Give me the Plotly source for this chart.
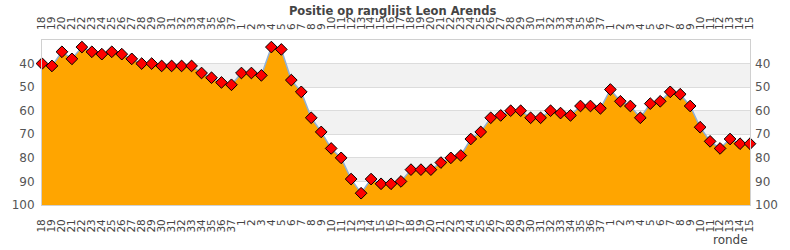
import plotly.graph_objects as go

labels = [str(i) for i in range(18, 38)] + [str(i) for i in range(1, 38)] + [str(i) for i in range(1, 16)]
positions = [40, 41, 35, 38, 33, 35, 36, 35, 36, 38, 40, 40, 41, 41, 41, 41, 44, 46, 48, 49,
             44, 44, 45, 33, 34, 47, 52, 63, 69, 76, 80, 89, 95, 89, 91, 91, 90, 85, 85, 85,
             82, 80, 79, 72, 69, 63, 62, 60, 60, 63, 63, 60, 61, 62, 58, 58, 59, 51, 56, 58,
             63, 57, 56, 52, 53, 58, 67, 73, 76, 72, 74, 74]
y_ticks = [40, 50, 60, 70, 80, 90, 100]
bands = [(40, 50), (60, 70), (80, 90)]
y_range = [100, 30]
title = "Positie op ranglijst Leon Arends"
x_title = "ronde"

x = list(range(len(positions)))
baseline = [100] * len(positions)

fig = go.Figure()
fig.add_trace(go.Scatter(x=x, y=baseline, mode="lines", line=dict(width=0, color="rgba(0,0,0,0)"),
                         hoverinfo="skip", showlegend=False))
fig.add_trace(go.Scatter(x=x, y=positions, mode="lines+markers", fill="tonexty", fillcolor="#FFA500",
                         line=dict(color="#8fb0d8", width=1.5),
                         marker=dict(symbol="diamond", size=9, color="#FF0000",
                                     line=dict(color="#000000", width=1)),
                         cliponaxis=False, showlegend=False))
fig.add_trace(go.Scatter(x=x, y=positions, xaxis="x2", yaxis="y2", mode="markers",
                         marker=dict(opacity=0), hoverinfo="skip", showlegend=False))

for lo, hi in bands:
    fig.add_shape(type="rect", xref="paper", yref="y", x0=0, x1=1, y0=lo, y1=hi,
                  fillcolor="#f2f2f2", line=dict(width=0), layer="below")

tickfont = dict(family="DejaVu Sans", size=10.5, color="#444444")
yfont = dict(family="DejaVu Sans", size=12, color="#555555")

fig.update_layout(
    width=790, height=250,
    margin=dict(l=40, r=40, t=40, b=45),
    paper_bgcolor="white", plot_bgcolor="white",
    title=dict(text="<b>" + title + "</b>", x=0.497, xanchor="center", yref="container", y=0.955,
               yanchor="middle", font=dict(family="DejaVu Sans", size=11.5, color="#444444")),
    xaxis=dict(range=[0, len(positions) - 1], tickmode="array", tickvals=x, ticktext=labels,
               tickangle=-90, tickfont=tickfont, showgrid=False, zeroline=False,
               showline=True, linecolor="#d0d0d0", linewidth=1, mirror=True, ticklabelstandoff=9),
    xaxis2=dict(range=[0, len(positions) - 1], overlaying="x", side="top", anchor="y",
                tickmode="array", tickvals=x, ticktext=labels, tickangle=-90, tickfont=tickfont,
                showgrid=False, zeroline=False, showline=False, ticklabelstandoff=9),
    yaxis=dict(range=y_range, tickmode="array", tickvals=y_ticks, tickfont=yfont,
               showgrid=True, gridcolor="#dcdcdc", gridwidth=1, zeroline=False,
               showline=True, linecolor="#d0d0d0", linewidth=1, mirror=True, ticklabelstandoff=4),
    yaxis2=dict(range=y_range, overlaying="y", side="right", anchor="x", tickmode="array",
                tickvals=y_ticks, tickfont=yfont, showgrid=False, zeroline=False,
                showline=False, ticklabelstandoff=4),
    annotations=[dict(text=x_title, xref="paper", yref="paper", x=1, y=-0.21, xanchor="right",
                      yanchor="middle", yshift=0, showarrow=False,
                      font=dict(family="DejaVu Sans", size=12, color="#444444"))],
)

fig.write_html("out.html")
